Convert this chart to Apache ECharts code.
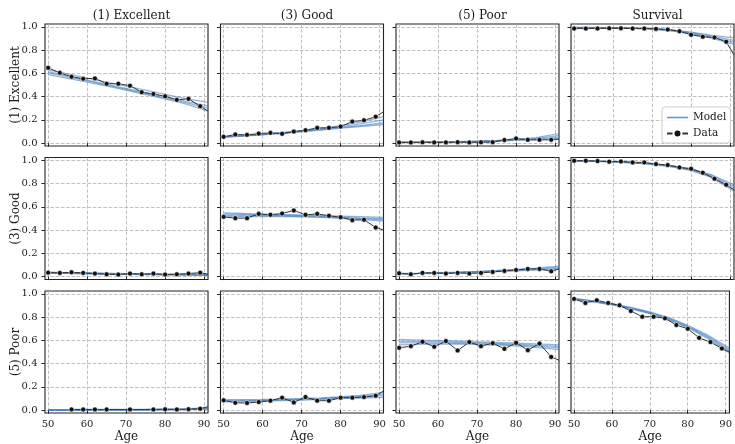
<!DOCTYPE html>
<html><head><meta charset="utf-8">
<script src="https://cdn.jsdelivr.net/npm/echarts@6/dist/echarts.min.js"></script>
<style>html,body{margin:0;padding:0;background:#fff}#c{width:735px;height:444px}</style>
</head><body><div id="c"></div><script>
// ---- data ----
const COL_TITLES = ['(1) Excellent', '(3) Good', '(5) Poor', 'Survival'];
const ROW_LABELS = ['(1) Excellent', '(3) Good', '(5) Poor'];
const X_TICKS = [50, 60, 70, 80, 90];
const Y_TICKS = [0, 0.2, 0.4, 0.6, 0.8, 1.0];
const AGES_DATA = [50, 53, 56, 59, 62, 65, 68, 71, 74, 77, 80, 83, 86, 89, 91];
const AGES_MODEL = [50, 55, 60, 65, 70, 75, 80, 85, 91];

// Data (observed) per panel [row][col]
const data_1_1 = [0.648,0.605,0.571,0.554,0.557,0.511,0.511,0.494,0.438,0.423,0.403,0.372,0.381,0.318,0.276];
const data_1_2 = [0.054,0.074,0.071,0.082,0.088,0.080,0.099,0.111,0.131,0.131,0.142,0.185,0.196,0.227,0.270];
const data_1_3 = [0.006,0.005,0.007,0.006,0.006,0.008,0.006,0.007,0.008,0.026,0.040,0.028,0.028,0.028,0.034];
const data_1_4 = [0.986,0.986,0.986,0.988,0.988,0.986,0.986,0.983,0.977,0.963,0.932,0.915,0.909,0.872,0.759];
const data_2_1 = [0.034,0.032,0.037,0.032,0.026,0.020,0.017,0.026,0.020,0.026,0.017,0.020,0.026,0.034,0.020];
const data_2_2 = [0.514,0.503,0.503,0.540,0.532,0.543,0.569,0.532,0.540,0.523,0.511,0.486,0.489,0.422,0.402];
const data_2_3 = [0.029,0.020,0.032,0.032,0.026,0.032,0.026,0.032,0.040,0.049,0.057,0.066,0.066,0.046,0.066];
const data_2_4 = [0.997,0.997,0.994,0.989,0.991,0.983,0.983,0.968,0.960,0.940,0.928,0.894,0.842,0.790,0.745];
const data_3_1 = [null,null,0.006,0.006,0.006,0.006,null,0.006,null,0.006,0.007,0.006,0.008,0.012,0.029];
const data_3_2 = [0.084,0.063,0.061,0.069,0.081,0.107,0.066,0.112,0.081,0.081,0.107,0.107,0.112,0.124,0.164];
const data_3_3 = [0.536,0.550,0.588,0.545,0.594,0.513,0.585,0.550,0.576,0.527,0.579,0.516,0.573,0.458,0.429];
const data_3_4 = [0.957,0.922,0.945,0.922,0.902,0.853,0.804,0.804,0.790,0.732,0.700,0.622,0.585,0.530,0.499];

// Model (simulated draws) per panel, values at AGES_MODEL
const model_1_1 = [
  [0.630,0.595,0.560,0.525,0.490,0.455,0.420,0.385,0.350],
  [0.615,0.578,0.542,0.506,0.470,0.434,0.398,0.362,0.320],
  [0.605,0.570,0.535,0.498,0.462,0.425,0.388,0.350,0.300],
  [0.590,0.557,0.524,0.490,0.455,0.418,0.380,0.340,0.275]];
const model_1_2 = [
  [0.055,0.065,0.077,0.091,0.107,0.126,0.150,0.180,0.228],
  [0.055,0.064,0.075,0.088,0.103,0.120,0.140,0.165,0.200],
  [0.052,0.062,0.073,0.086,0.100,0.116,0.133,0.150,0.175],
  [0.050,0.060,0.071,0.083,0.097,0.112,0.128,0.143,0.160]];
const model_1_3 = [
  [0.008,0.009,0.011,0.013,0.017,0.023,0.032,0.047,0.082],
  [0.007,0.008,0.010,0.012,0.016,0.021,0.029,0.041,0.065],
  [0.006,0.007,0.009,0.011,0.015,0.019,0.026,0.036,0.050],
  [0.005,0.006,0.008,0.010,0.013,0.017,0.023,0.030,0.038]];
const model_1_4 = [
  [0.995,0.995,0.994,0.992,0.987,0.975,0.955,0.930,0.905],
  [0.995,0.994,0.993,0.990,0.985,0.972,0.950,0.922,0.885],
  [0.994,0.994,0.992,0.989,0.983,0.969,0.945,0.913,0.868],
  [0.994,0.993,0.991,0.987,0.980,0.965,0.940,0.905,0.850]];
const model_2_1 = [
  [0.038,0.035,0.032,0.029,0.026,0.024,0.022,0.021,0.020],
  [0.035,0.032,0.029,0.026,0.023,0.021,0.019,0.018,0.016],
  [0.032,0.029,0.026,0.023,0.021,0.019,0.017,0.015,0.013],
  [0.030,0.027,0.024,0.021,0.019,0.017,0.015,0.013,0.011]];
const model_2_2 = [
  [0.548,0.543,0.538,0.534,0.530,0.526,0.521,0.516,0.510],
  [0.538,0.535,0.532,0.528,0.524,0.519,0.513,0.506,0.498],
  [0.527,0.526,0.525,0.522,0.519,0.514,0.507,0.499,0.489],
  [0.515,0.517,0.518,0.517,0.514,0.509,0.501,0.492,0.478]];
const model_2_3 = [
  [0.027,0.030,0.034,0.039,0.045,0.053,0.062,0.073,0.090],
  [0.025,0.028,0.032,0.037,0.043,0.050,0.058,0.068,0.080],
  [0.024,0.027,0.031,0.035,0.041,0.047,0.054,0.062,0.071],
  [0.022,0.025,0.029,0.033,0.038,0.044,0.050,0.056,0.062]];
const model_2_4 = [
  [0.997,0.994,0.990,0.983,0.972,0.955,0.928,0.880,0.790],
  [0.997,0.994,0.989,0.982,0.970,0.952,0.923,0.873,0.775],
  [0.996,0.993,0.988,0.980,0.968,0.949,0.918,0.865,0.755],
  [0.996,0.992,0.987,0.978,0.965,0.945,0.912,0.855,0.735]];
const model_3_1 = [
  [0.002,0.002,0.003,0.003,0.004,0.005,0.007,0.010,0.020],
  [0.001,0.002,0.002,0.003,0.003,0.004,0.006,0.008,0.015],
  [0.001,0.001,0.002,0.002,0.003,0.003,0.005,0.007,0.011],
  [0.001,0.001,0.001,0.002,0.002,0.003,0.004,0.005,0.008]];
const model_3_2 = [
  [0.090,0.090,0.092,0.095,0.100,0.106,0.115,0.127,0.153],
  [0.083,0.084,0.086,0.090,0.095,0.101,0.109,0.119,0.138],
  [0.077,0.079,0.082,0.086,0.091,0.097,0.104,0.112,0.124],
  [0.070,0.073,0.077,0.081,0.086,0.092,0.098,0.104,0.110]];
const model_3_3 = [
  [0.608,0.603,0.598,0.593,0.588,0.582,0.576,0.570,0.562],
  [0.592,0.590,0.587,0.584,0.580,0.575,0.568,0.560,0.548],
  [0.578,0.578,0.577,0.575,0.572,0.567,0.560,0.550,0.535],
  [0.562,0.565,0.567,0.567,0.565,0.560,0.552,0.540,0.520]];
const model_3_4 = [
  [0.962,0.940,0.916,0.885,0.845,0.795,0.730,0.650,0.533],
  [0.960,0.937,0.912,0.880,0.840,0.789,0.723,0.640,0.518],
  [0.957,0.934,0.909,0.876,0.835,0.783,0.716,0.631,0.505],
  [0.954,0.931,0.905,0.872,0.830,0.777,0.709,0.622,0.492]];

const DATA = [[data_1_1,data_1_2,data_1_3,data_1_4],[data_2_1,data_2_2,data_2_3,data_2_4],[data_3_1,data_3_2,data_3_3,data_3_4]];
const MODEL = [[model_1_1,model_1_2,model_1_3,model_1_4],[model_2_1,model_2_2,model_2_3,model_2_4],[model_3_1,model_3_2,model_3_3,model_3_4]];

// ---- layout/style ----
const FONT = 'DejaVu Serif';
const LEFTS = [45, 220.5, 396, 571];
const TOPS = [24, 157.5, 291];
const W = 163, H = 122;
const MODEL_COLOR = 'rgba(55,120,190,0.55)';
const TXT = '#1a1a1a';

const grids = [], xAxes = [], yAxes = [], series = [];
for (let r = 0; r < 3; r++) {
  for (let c = 0; c < 4; c++) {
    const p = r * 4 + c;
    grids.push({left: LEFTS[c], top: TOPS[r], width: W, height: H, show: true,
      borderColor: '#222', borderWidth: 1.1, backgroundColor: 'transparent'});
    xAxes.push({gridIndex: p, type: 'value', min: 49.2, max: 91,
      axisLine: {show: false},
      axisTick: {show: true, length: 3.5, customValues: X_TICKS, lineStyle: {color: '#222', width: 1}},
      axisLabel: {show: r === 2, customValues: X_TICKS, margin: 6, fontSize: 10, fontFamily: FONT, color: TXT},
      splitLine: {show: true, lineStyle: {type: [3.5, 1.8], color: '#b0b0b0', width: 0.8}},
      name: r === 2 ? 'Age' : '', nameLocation: 'middle', nameGap: 18, nameMoveOverlap: false,
      nameTextStyle: {fontFamily: FONT, fontSize: 12, color: TXT}});
    yAxes.push({gridIndex: p, type: 'value', min: -0.025, max: 1.025,
      axisLine: {show: false},
      axisTick: {show: true, length: 3.5, customValues: Y_TICKS, lineStyle: {color: '#222', width: 1}},
      axisLabel: {show: c === 0, customValues: Y_TICKS, margin: 7.5, fontSize: 10, fontFamily: FONT, color: TXT,
        formatter: v => v.toFixed(1)},
      splitLine: {show: true, lineStyle: {type: [3.5, 1.8], color: '#b0b0b0', width: 0.8}},
      name: c === 0 ? ROW_LABELS[r] : '', nameLocation: 'middle', nameGap: 23, nameRotate: 90, nameMoveOverlap: false,
      nameTextStyle: {fontFamily: FONT, fontSize: 12, color: TXT}});
    MODEL[r][c].forEach(line => {
      series.push({type: 'line', name: 'Model', xAxisIndex: p, yAxisIndex: p,
        data: AGES_MODEL.map((a, i) => [a, line[i]]), symbol: 'none',
        lineStyle: {color: MODEL_COLOR, width: 1.3}, itemStyle: {color: MODEL_COLOR},
        silent: true, z: 2});
    });
    const pts = [];
    DATA[r][c].forEach((v, i) => {
      if (v === null) return;
      const item = {value: [AGES_DATA[i], v]};
      if (i === AGES_DATA.length - 1) item.symbol = 'none';
      pts.push(item);
    });
    series.push({type: 'line', name: 'Data', xAxisIndex: p, yAxisIndex: p, data: pts,
      symbol: 'circle', symbolSize: 5, showAllSymbol: true,
      lineStyle: {color: '#333', width: 1}, itemStyle: {color: '#111', borderColor: '#fff', borderWidth: 0.6},
      silent: true, z: 3});
  }
}

const titles = COL_TITLES.map((t, c) => ({text: t, left: LEFTS[c] + W / 2, top: 5, textAlign: 'center',
  textStyle: {fontFamily: FONT, fontSize: 12, fontWeight: 'normal', color: TXT}}));

const chart = echarts.init(document.getElementById('c'), null, {renderer: 'canvas'});
chart.setOption({
  animation: false,
  backgroundColor: '#fff',
  title: titles,
  legend: {data: [
      {name: 'Model', icon: 'path://M0,0 L21,0 L21,1.6 L0,1.6 Z', itemStyle: {color: 'rgba(55,120,190,0.75)'}},
      {name: 'Data'}],
    orient: 'vertical', left: 662, top: 107, itemWidth: 21, itemHeight: 10, itemGap: 5,
    padding: [5, 4, 4, 4], backgroundColor: 'rgba(255,255,255,0.85)', borderColor: '#ccc', borderWidth: 1, borderRadius: 3,
    textStyle: {fontFamily: FONT, fontSize: 10.5, color: TXT}},
  grid: grids, xAxis: xAxes, yAxis: yAxes, series: series
});
</script></body></html>
